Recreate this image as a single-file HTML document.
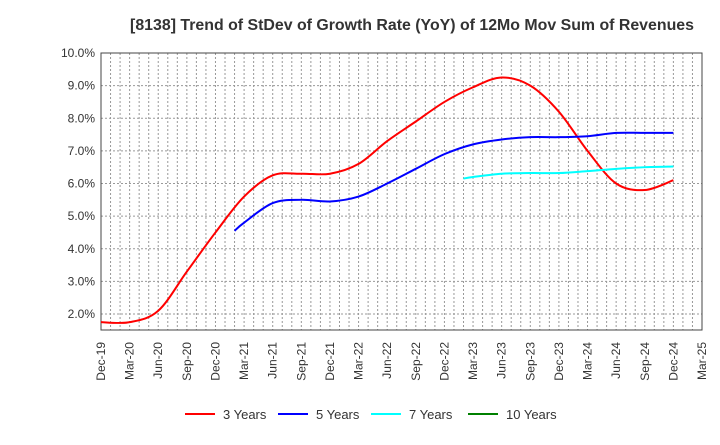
<!DOCTYPE html>
<html><head><meta charset="utf-8"><style>
body{margin:0;background:#fff;font-family:"Liberation Sans",sans-serif}
</style></head><body>
<svg id="c" width="720" height="440" xmlns="http://www.w3.org/2000/svg">
<text x="412" y="30" text-anchor="middle" font-size="15.9" font-weight="bold" fill="#333">[8138]  Trend of StDev of Growth Rate (YoY) of 12Mo Mov Sum of Revenues</text>
<g id="grid"></g><g id="axes"></g><g id="series"></g><g id="legend"></g>
</svg>
<script>
const xLabels=["Dec-19","Mar-20","Jun-20","Sep-20","Dec-20","Mar-21","Jun-21","Sep-21","Dec-21","Mar-22","Jun-22","Sep-22","Dec-22","Mar-23","Jun-23","Sep-23","Dec-23","Mar-24","Jun-24","Sep-24","Dec-24","Mar-25"];
const yTicks=[2,3,4,5,6,7,8,9,10];
const s3m=[0,3,6,9,12,15,18,21,24,27,30,33,36,39,42,45,48,51,54,57,60];
const s3v=[1.75,1.75,2.1,3.3,4.5,5.6,6.25,6.3,6.3,6.6,7.3,7.9,8.5,8.95,9.25,9.0,8.2,7.0,6.0,5.8,6.1];
const s5m=[14,15,18,21,24,27,30,33,36,39,42,45,48,51,54,57,60];
const s5v=[4.55,4.8,5.4,5.5,5.45,5.6,6.0,6.45,6.9,7.2,7.35,7.42,7.42,7.45,7.55,7.55,7.55];
const s7m=[38,39,42,45,48,51,54,57,60];
const s7v=[6.15,6.2,6.3,6.32,6.32,6.38,6.45,6.5,6.52];
const L=101,R=702,T=53,B=330;
const x=m=>L+(R-L)*m/63;
const y=v=>T+(10-v)*(314-53)/8;
const NS="http://www.w3.org/2000/svg";
function mk(p,t,a){const e=document.createElementNS(NS,t);for(const k in a)e.setAttribute(k,a[k]);p.appendChild(e);return e;}
const g=document.getElementById('grid'),ax=document.getElementById('axes'),sg=document.getElementById('series'),lg=document.getElementById('legend');
for(let m=1;m<63;m++){const l=mk(g,'line',{x1:x(m),x2:x(m),y1:T,y2:B,stroke:'#999','stroke-dasharray':'2,2','stroke-width':1});

}
yTicks.forEach(v=>{if(v<10){const l=mk(g,'line',{x1:L,x2:R,y1:y(v),y2:y(v),stroke:'#999','stroke-dasharray':'2,2'});

}
const t=mk(ax,'text',{x:L-6,y:y(v)+4,'text-anchor':'end','font-size':12,fill:'#333'});t.textContent=v.toFixed(1)+'%';

});
const fr=mk(ax,'rect',{x:L,y:T,width:R-L,height:B-T,fill:'none',stroke:'#444'});


xLabels.forEach((s,i)=>{const px=x(i*3),py=B+8;const t=mk(ax,'text',{x:px,y:py,'text-anchor':'end','font-size':12,fill:'#333',transform:`rotate(-90 ${px+4} ${py})`});t.textContent=s;

});
function path(ms,vs){const P=ms.map((m,i)=>[x(m),y(vs[i])]);let d=`M${P[0][0]},${P[0][1]}`;
for(let i=0;i<P.length-1;i++){const p0=P[i-1]||P[i],p1=P[i],p2=P[i+1],p3=P[i+2]||p2;
d+=` C${p1[0]+(p2[0]-p0[0])/6},${p1[1]+(p2[1]-p0[1])/6} ${p2[0]-(p3[0]-p1[0])/6},${p2[1]-(p3[1]-p1[1])/6} ${p2[0]},${p2[1]}`;}return d;}
const ser=[[s3m,s3v,'#ff0000','3 Years','series-3-years'],[s5m,s5v,'#0000ff','5 Years','series-5-years'],[s7m,s7v,'#00ffff','7 Years','series-7-years'],[[],[], '#008000','10 Years','series-10-years']];
ser.forEach((s,i)=>{if(s[0].length){const p=mk(sg,'path',{d:path(s[0],s[1]),fill:'none',stroke:s[2],'stroke-width':2});

}
const lx=[185,278,371,468][i];
const it=mk(lg,'g',{});


mk(it,'line',{x1:lx,x2:lx+30,y1:414,y2:414,stroke:s[2],'stroke-width':2});
const t=mk(it,'text',{x:lx+38,y:419,'font-size':13,fill:'#333'});t.textContent=s[3];});
</script>
</body></html>
